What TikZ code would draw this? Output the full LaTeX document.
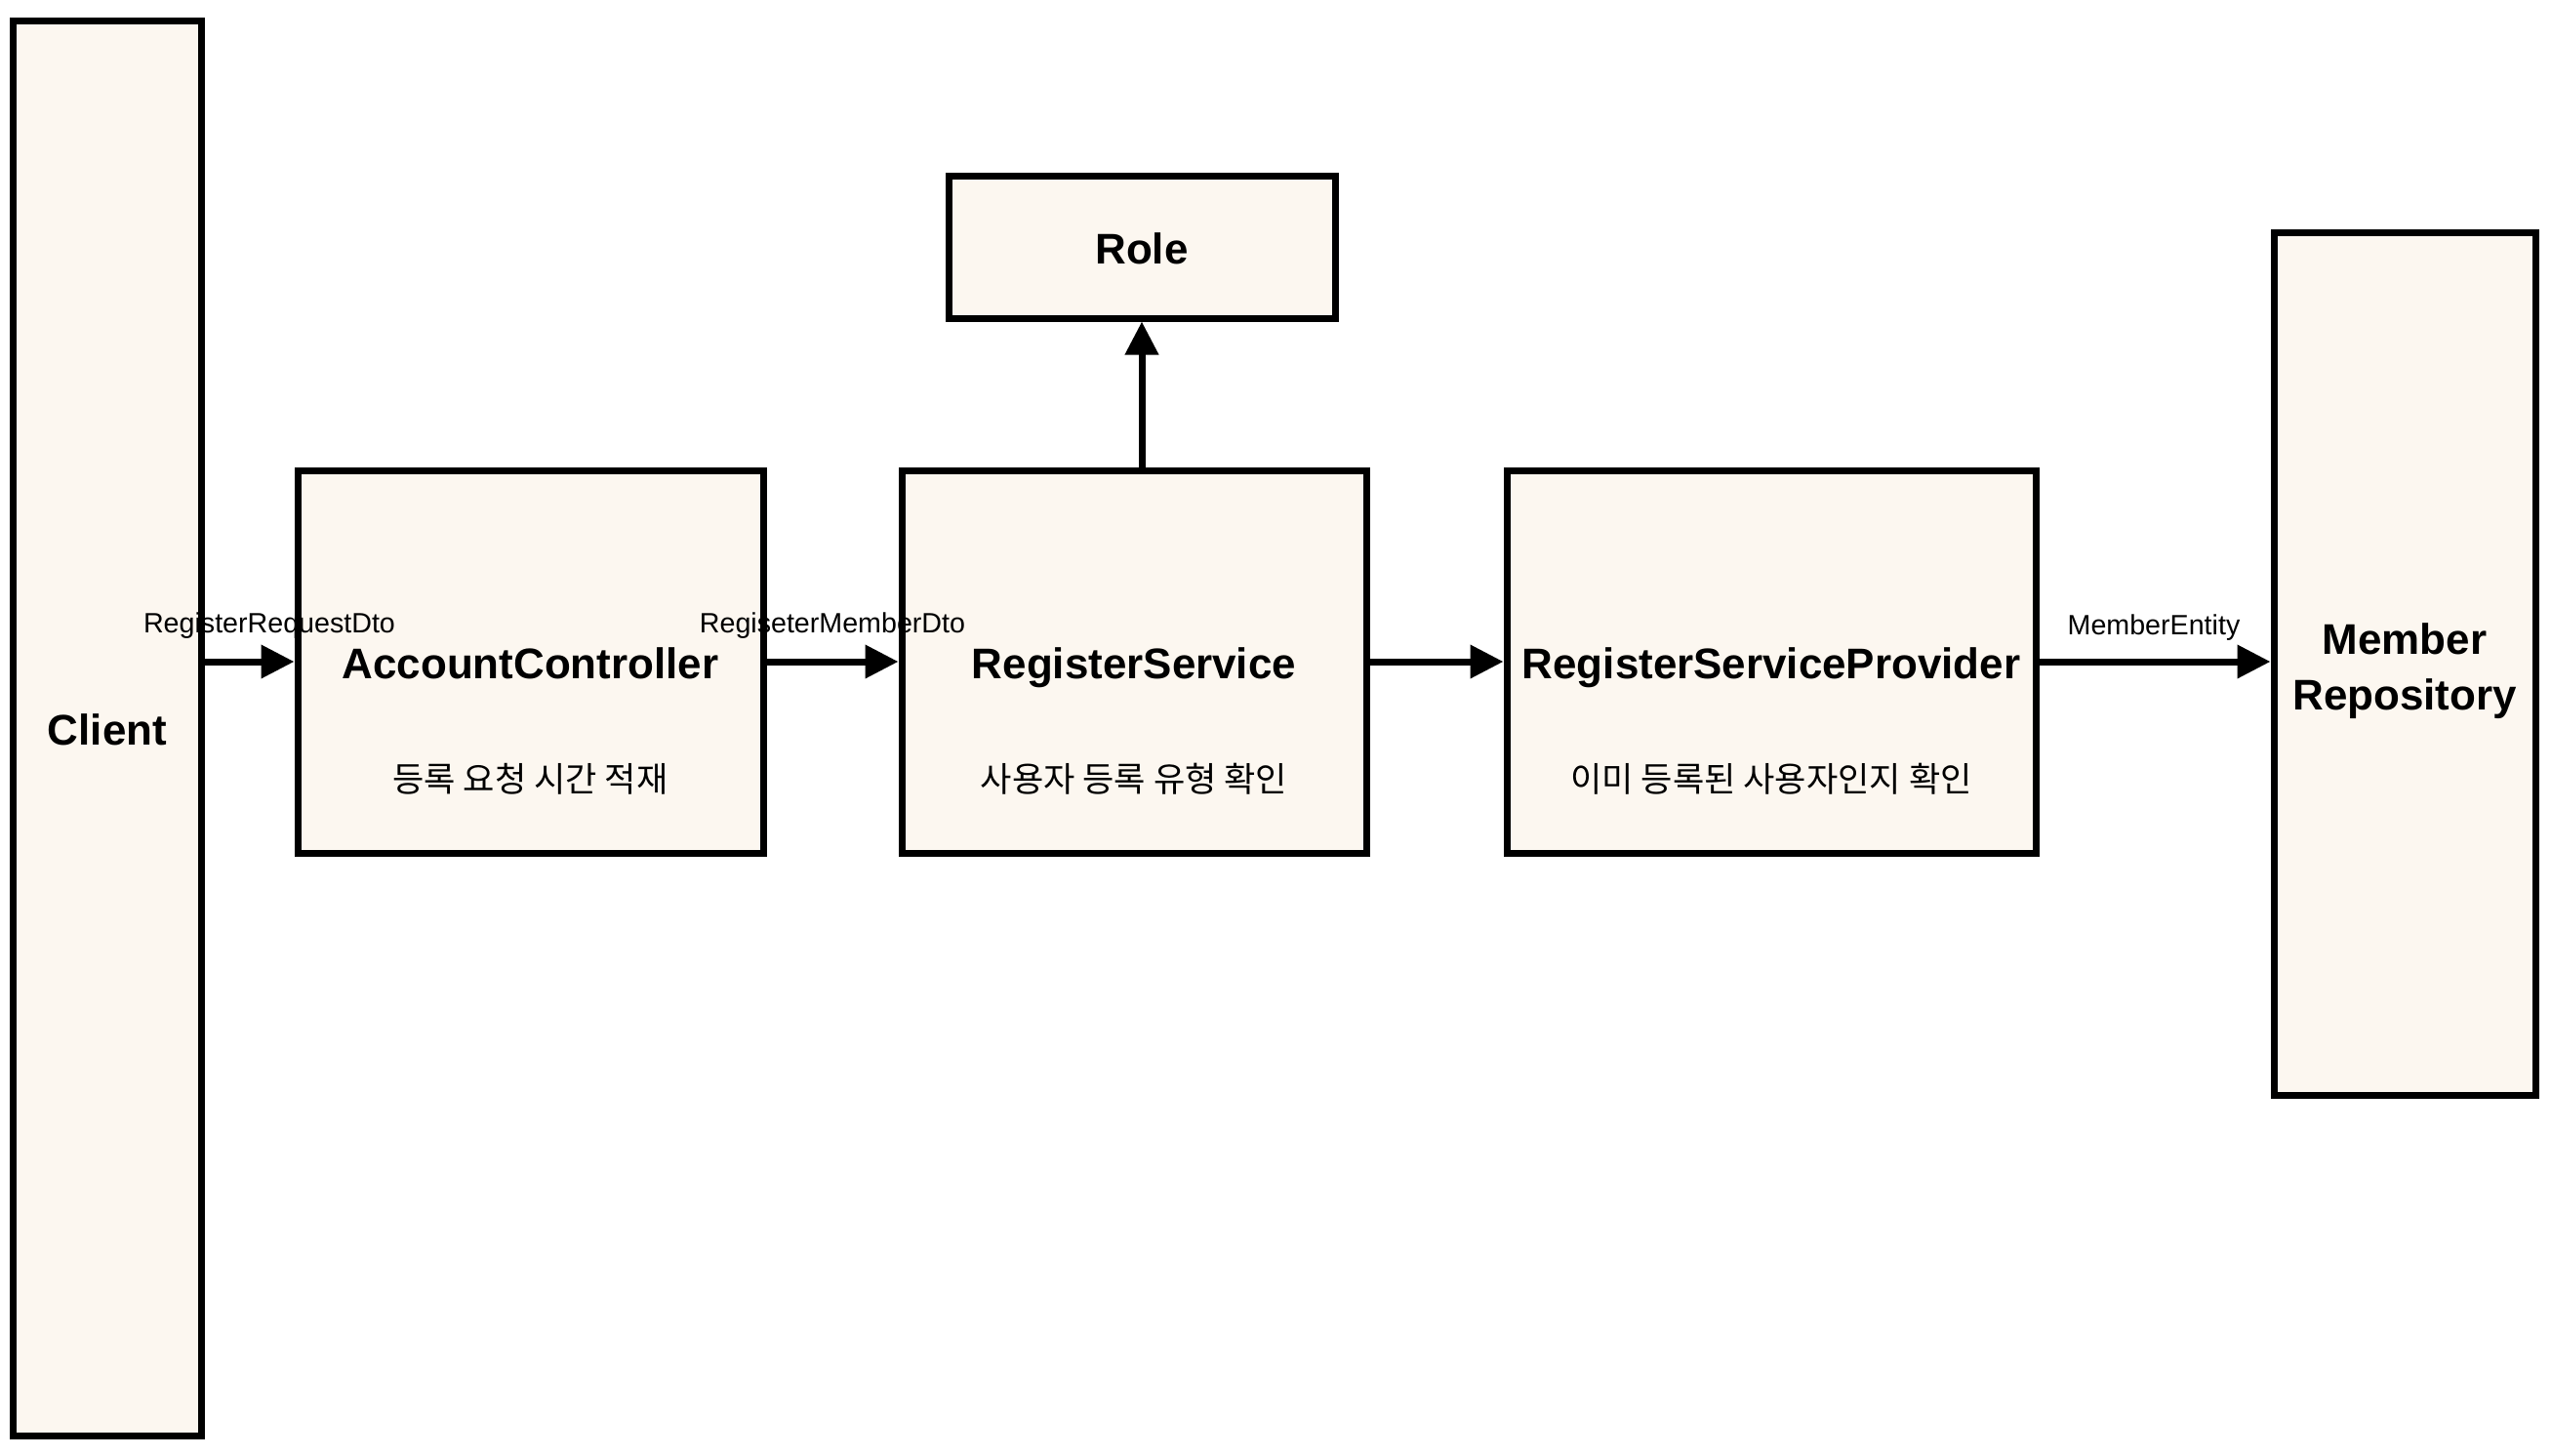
\documentclass[tikz,border=0pt]{standalone}
\usepackage{fontspec}
\setmainfont{Liberation Sans}
\newfontfamily\krfont{Noto Sans CJK KR}
\usetikzlibrary{arrows.meta}
\pgfdeclarelayer{background}
\pgfsetlayers{background,main}
\definecolor{boxfill}{HTML}{FCF7F0}
\begin{document}
\begin{tikzpicture}[x=1cm,y=-1cm,
  box/.style={draw=black,line width=0.07cm,rectangle,inner sep=0pt,
    font=\bfseries\fontsize{12.5}{16.2}\selectfont,align=center},
  onel/.style={text height=10pt,text depth=0pt},
  sub/.style={font=\krfont\fontsize{10}{12}\selectfont,inner sep=0pt},
  lbl/.style={font=\fontsize{8.15}{10}\selectfont,inner sep=0pt,anchor=base},
  conn/.style={line width=0.07cm,-{Triangle[length=0.34cm,width=0.33cm]}}]
\useasboundingbox (0,0) rectangle (26.14,14.92);
% boxes
\node[box,onel,minimum width=1.93cm,minimum height=14.50cm] (client) at (1.10,7.46) {Client};
\node[box,onel,minimum width=4.77cm,minimum height=3.92cm] (ac) at (5.435,6.78) {AccountController};
\node[box,onel,minimum width=4.76cm,minimum height=3.92cm] (rs) at (11.62,6.78) {RegisterService};
\node[box,onel,minimum width=5.42cm,minimum height=3.92cm] (rsp) at (18.15,6.78) {RegisterServiceProvider};
\node[box,minimum width=2.68cm,minimum height=8.84cm] (mr) at (24.64,6.80) {\rule{0pt}{13.3pt}Member\\Repository};
\node[box,onel,minimum width=3.96cm,minimum height=1.46cm] (role) at (11.70,2.53) {Role};
\begin{pgfonlayer}{background}
  \foreach \n in {client,ac,rs,rsp,mr,role}
    \fill[boxfill] (\n.south west) rectangle (\n.north east);
  \node[lbl] (l1) at (2.76,6.48) {RegisterRequestDto};
  \node[lbl] (l2) at (8.53,6.48) {RegiseterMemberDto};
  \node[lbl] (l3) at (22.07,6.50) {MemberEntity};
\end{pgfonlayer}
% subtitles
\node[sub] (acs) at (5.435,7.98) {등록 요청 시간 적재};
\node[sub] (rss) at (11.62,7.98) {사용자 등록 유형 확인};
\node[sub] (rsps) at (18.15,7.98) {이미 등록된 사용자인지 확인};
% connectors
\draw[conn] (client.east |- ac.west) -- (ac.west);
\draw[conn] (ac.east) -- (rs.west);
\draw[conn] (rs.east) -- (rsp.west);
\draw[conn] (rsp.east) -- (mr.west |- rsp.east);
\draw[conn] (role.south |- rs.north) -- (role.south);
\end{tikzpicture}
\end{document}
